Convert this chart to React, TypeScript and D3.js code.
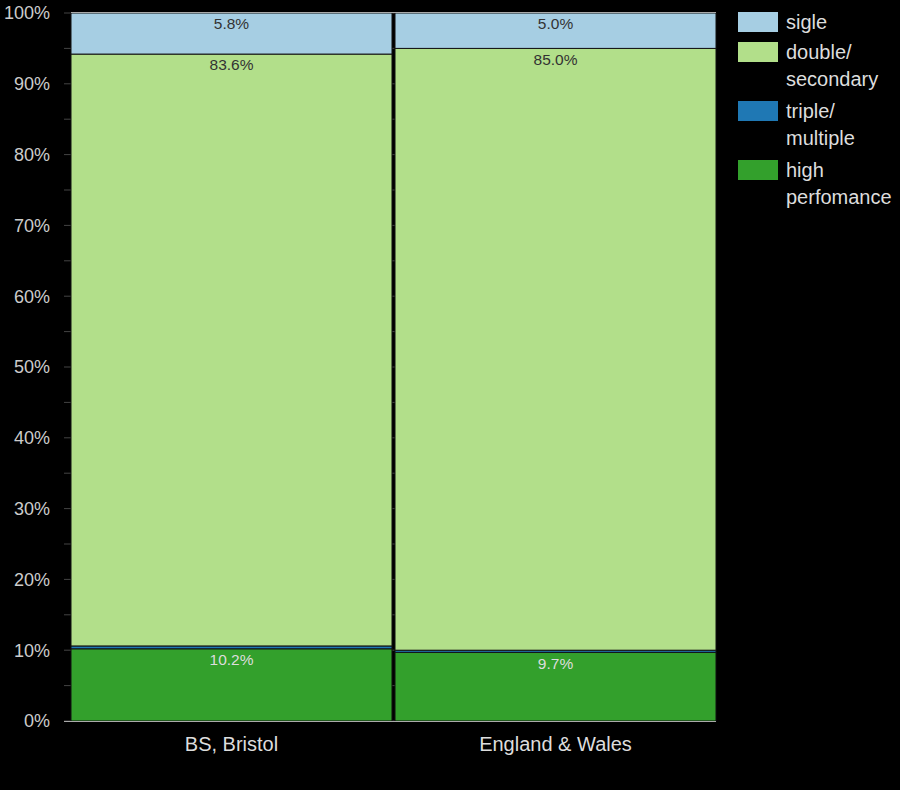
import * as d3 from 'd3';
import * as React from 'react';

const { useRef, useEffect } = React;

const width = 900;
const height = 790;
const margin = { top: 13, right: 184, bottom: 69, left: 71 };

const areas = ['BS, Bristol', 'England & Wales'];
const keys = ['high', 'triple', 'double', 'single'];
const labels: Record<string, string[]> = {
  single: ['sigle'],
  double: ['double/', 'secondary'],
  triple: ['triple/', 'multiple'],
  high: ['high', 'perfomance'],
};
const colors: Record<string, string> = {
  single: '#a6cee3',
  double: '#b2df8a',
  triple: '#1f78b4',
  high: '#33a02c',
};
const highValues = [10.2, 9.7];
const tripleValues = [0.4, 0.3];
const doubleValues = [83.6, 85.0];
const singleValues = [5.8, 5.0];
const yTicks = [0, 10, 20, 30, 40, 50, 60, 70, 80, 90, 100];

const font = 'Liberation Sans, Arial, sans-serif';

export default () => {
  const rootRef = useRef<SVGSVGElement>(null);

  useEffect(() => {
    const svg = d3.select(rootRef.current);
    svg.selectAll('*').remove();

    const rows = areas.map((name, i) => ({
      name,
      high: highValues[i],
      triple: tripleValues[i],
      double: doubleValues[i],
      single: singleValues[i],
    }));

    const stack = d3.stack<any>().keys(keys)(rows);

    const x = d3
      .scaleBand()
      .domain(areas)
      .range([margin.left, width - margin.right])
      .paddingInner(0.0093);

    const y = d3
      .scaleLinear()
      .domain([0, 100])
      .range([height - margin.bottom, margin.top]);

    // y axis ticks (major + minor every 5%)
    const yg = svg.append('g');
    yg.selectAll('line')
      .data(d3.range(0, 101, 5))
      .join('line')
      .attr('x1', margin.left - 7)
      .attr('x2', width - margin.right)
      .attr('y1', d => y(d))
      .attr('y2', d => y(d))
      .attr('stroke', '#444');
    yg.selectAll('text')
      .data(yTicks)
      .join('text')
      .attr('x', 50)
      .attr('y', d => y(d))
      .attr('dy', '0.35em')
      .attr('text-anchor', 'end')
      .attr('fill', '#ccc')
      .attr('font-size', 18)
      .attr('font-family', font)
      .text(d => `${d}%`);

    // bars
    const layers = svg
      .append('g')
      .selectAll('g')
      .data(stack)
      .join('g')
      .attr('fill', d => colors[d.key]);

    layers
      .selectAll('rect')
      .data(d => d)
      .join('rect')
      .attr('x', d => x(d.data.name) as number)
      .attr('width', x.bandwidth())
      .attr('y', d => y(d[1]))
      .attr('height', d => y(d[0]) - y(d[1]))
      .attr('stroke', '#111')
      .attr('stroke-width', 1);

    // top/bottom lines
    svg
      .append('line')
      .attr('x1', margin.left - 7)
      .attr('x2', width - margin.right)
      .attr('y1', y(0) + 0.5)
      .attr('y2', y(0) + 0.5)
      .attr('stroke', '#aaa');
    svg
      .append('line')
      .attr('x1', margin.left)
      .attr('x2', width - margin.right)
      .attr('y1', y(100) - 0.5)
      .attr('y2', y(100) - 0.5)
      .attr('stroke', '#aaa');

    // value labels
    const labelG = svg
      .append('g')
      .attr('font-size', 15.5)
      .attr('font-family', font)
      .attr('text-anchor', 'middle');
    stack.forEach(layer => {
      if (layer.key === 'triple') return;
      layer.forEach(d => {
        labelG
          .append('text')
          .attr('x', (x(d.data.name) as number) + x.bandwidth() / 2)
          .attr('y', y(d[1]) + 11)
          .attr('dy', '0.35em')
          .attr('fill', layer.key === 'high' ? '#ddd' : '#333')
          .text(`${(d[1] - d[0]).toFixed(1)}%`);
      });
    });

    // x labels
    svg
      .append('g')
      .selectAll('text')
      .data(areas)
      .join('text')
      .attr('x', d => (x(d) as number) + x.bandwidth() / 2)
      .attr('y', y(0) + 23)
      .attr('dy', '0.35em')
      .attr('text-anchor', 'middle')
      .attr('fill', '#ddd')
      .attr('font-size', 20)
      .attr('font-family', font)
      .text(d => d);

    // legend
    const legendKeys = ['single', 'double', 'triple', 'high'];
    const legendY = [12, 42, 101, 160];
    const lg = svg
      .append('g')
      .attr('font-size', 20)
      .attr('font-family', font)
      .attr('fill', '#ddd');
    legendKeys.forEach((k, i) => {
      lg.append('rect')
        .attr('x', 738)
        .attr('y', legendY[i])
        .attr('width', 40)
        .attr('height', 20)
        .attr('fill', colors[k]);
      labels[k].forEach((t, j) => {
        lg.append('text')
          .attr('x', 786)
          .attr('y', legendY[i] + 10 + j * 27)
          .attr('dy', '0.35em')
          .text(t);
      });
    });
  }, []);

  return (
    <svg
      ref={rootRef}
      width={width}
      height={height}
      style={{ position: 'absolute', left: 0, top: 0, background: '#000' }}
    />
  );
};
